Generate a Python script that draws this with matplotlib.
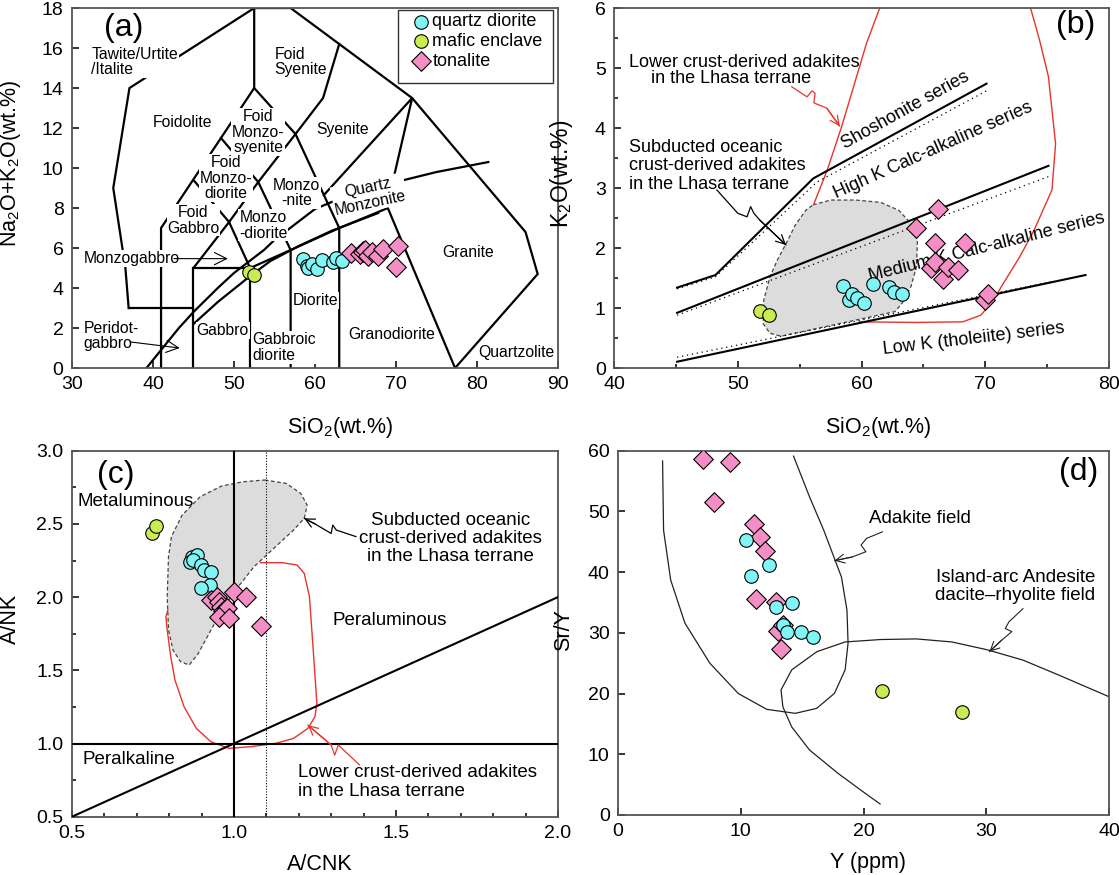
import matplotlib
matplotlib.use('Agg')
import matplotlib.pyplot as plt
from matplotlib.ticker import MultipleLocator
from matplotlib.patches import Rectangle

plt.rcParams['font.family'] = ['Liberation Sans', 'DejaVu Sans']
plt.rcParams['mathtext.fontset'] = 'custom'
plt.rcParams['mathtext.rm'] = 'Liberation Sans'
plt.rcParams['mathtext.default'] = 'regular'

# ---------------- sample data ----------------
qd_sio2 = [58.5, 59.0, 59.2, 59.6, 60.2, 60.9, 62.2, 62.6, 63.3]
qd_alk = [5.45, 5.10, 5.00, 5.20, 4.95, 5.38, 5.30, 5.50, 5.35]
qd_k2o = [1.36, 1.13, 1.24, 1.16, 1.08, 1.40, 1.35, 1.27, 1.23]
qd_acnk = [0.870, 0.887, 0.864, 0.875, 0.898, 0.908, 0.928, 0.926, 0.898]
qd_ank = [2.276, 2.287, 2.242, 2.255, 2.220, 2.185, 2.170, 2.083, 2.060]
qd_y = [10.4, 10.8, 12.3, 12.9, 14.2, 13.4, 13.8, 14.9, 15.9]
qd_sry = [45.3, 39.3, 41.2, 34.2, 34.9, 31.3, 30.2, 30.2, 29.3]

me_sio2 = [51.8, 52.5]
me_alk = [4.80, 4.64]
me_k2o = [0.95, 0.88]
me_acnk = [0.746, 0.759]
me_ank = [2.435, 2.488]
me_y = [21.5, 28.0]
me_sry = [20.5, 17.0]

to_sio2 = [64.4, 65.6, 65.9, 65.9, 66.2, 66.6, 67.0, 67.8, 68.4, 70.0, 70.2]
to_alk = [5.75, 5.70, 5.85, 5.78, 5.90, 5.62, 5.82, 5.58, 5.97, 5.05, 6.10]
to_k2o = [2.33, 1.66, 2.09, 1.77, 2.65, 1.48, 1.69, 1.64, 2.08, 1.14, 1.24]
to_acnk = [0.928, 0.949, 0.954, 0.959, 0.965, 0.980, 1.000, 1.036, 0.954, 0.985, 1.083]
to_ank = [1.980, 2.003, 1.969, 1.934, 1.905, 1.923, 2.037, 2.003, 1.866, 1.855, 1.800]
to_y = [6.9, 9.1, 7.8, 11.1, 11.6, 12.0, 11.2, 12.9, 13.0, 13.3, 13.4]
to_sry = [58.6, 58.2, 51.6, 47.9, 45.8, 43.5, 35.5, 35.0, 30.3, 27.3, 31.3]

series_names = ['quartz diorite', 'mafic enclave', 'tonalite']

# ---------------- TAS (Middlemost 1994) boundaries ----------------
tas_lines = [
    ([37.0, 36.6, 35.1, 37.1, 52.5, 57.0, 63.0, 72.0, 86.0, 87.5, 77.3],
     [3.0, 5.0, 9.0, 14.0, 18.0, 18.0, 16.2, 13.5, 6.8, 4.7, 0.0]),
    ([37, 45], [3, 3]),
    ([41, 41, 52.5, 52.5], [0, 7, 14, 18]),
    ([52.5, 57.6, 63, 63], [14, 11.7, 7, 0]),
    ([45, 45, 52, 52], [0, 5, 5, 0]),
    ([45, 49.4, 53, 57.6, 61, 63], [5, 7.3, 9.3, 11.7, 13.5, 16.2]),
    ([45, 49.4, 52], [9.4, 7.3, 5]),
    ([48.4, 53, 57, 57], [11.5, 9.3, 5.9, 0]),
    ([52, 57, 63, 69, 77.3], [5, 5.9, 7, 8, 0]),
    ([61.1, 72, 69.6], [8.65, 13.5, 9.3]),
    ([39.2, 40, 43.2, 45, 48, 50, 53.7, 55, 60, 65, 70, 75, 81.4],
     [0, 0.4, 2.0, 2.8, 4.0, 4.75, 5.9, 6.4, 7.95, 8.8, 9.3, 9.8, 10.3]),
    ([45, 48, 52, 54.5, 58, 62, 67.8], [2.2, 3.3, 4.6, 5.35, 6.1, 6.85, 7.75]),
]

tas_labels = [
    ('Tawite/Urtite\n/Italite', 32.4, 15.3, 'left'),
    ('Foidolite', 43.6, 12.26, 'center'),
    ('Foid\nSyenite', 55.0, 15.3, 'left'),
    ('Syenite', 63.4, 11.93, 'center'),
    ('Foid\nMonzo-\nsyenite', 53.0, 11.8, 'center'),
    ('Foid\nMonzo-\ndiorite', 49.0, 9.5, 'center'),
    ('Monzo\n-nite', 57.7, 8.76, 'center'),
    ('Foid\nGabbro', 45.0, 7.39, 'center'),
    ('Monzo\n-diorite', 53.6, 7.14, 'center'),
    ('Granite', 78.9, 5.76, 'center'),
    ('Diorite', 60.1, 3.39, 'center'),
    ('Granodiorite', 69.5, 1.69, 'center'),
    ('Gabbro', 48.6, 1.88, 'center'),
    ('Gabbroic\ndiorite', 52.25, 1.03, 'left'),
    ('Quartzolite', 84.9, 0.80, 'center'),
]

# ---------------- K2O-SiO2 ----------------
k_solid = [
    ([45.1, 48.2, 56.1, 70.1], [1.34, 1.55, 3.16, 4.74]),
    ([45.1, 75.1], [0.92, 3.37]),
    ([45.1, 78.1], [0.105, 1.55]),
]
k_dotted = [
    ([45.1, 48.2, 56.4, 70.1], [1.32, 1.52, 3.10, 4.62]),
    ([45.1, 75.1], [0.88, 3.19]),
    ([45.1, 75.4], [0.18, 1.44]),
]
b_grey_x = [56.08, 57.52, 59.54, 61.56, 63.0, 64.0, 64.52, 64.44, 64.0, 63.28, 62.7,
            53.49, 52.6, 52.05, 52.1, 52.6, 53.2, 53.92, 54.64, 55.5]
b_grey_y = [2.72, 2.80, 2.80, 2.76, 2.63, 2.41, 2.13, 1.69, 1.36, 1.08, 0.94,
            0.53, 0.58, 0.74, 1.13, 1.52, 1.80, 2.08, 2.38, 2.63]
b_red_x = [56.14, 57.23, 58.39, 60.4, 61.47, 61.6]
b_red_y = [2.73, 3.30, 4.02, 5.41, 6.0, 6.3]
b_red2_x = [73.5, 73.66, 74.38, 75.1, 75.68, 75.39, 73.95, 72.8, 71.64, 70.49, 69.63,
            68.18, 64.44, 59.83]
b_red2_y = [6.3, 6.0, 5.47, 4.86, 3.74, 2.97, 2.30, 1.86, 1.47, 1.08, 0.88,
            0.77, 0.76, 0.77]
b_red_arrow_x = [54.35, 55.6, 56.0, 56.25, 56.15, 57.2, 58.24]
b_red_arrow_y = [4.69, 4.52, 4.62, 4.58, 4.42, 4.33, 4.03]
b_blk_arrow_x = [48.3, 50.0, 50.75, 51.04, 51.3, 51.76, 53.9]
b_blk_arrow_y = [2.97, 2.58, 2.52, 2.69, 2.58, 2.47, 2.05]

# ---------------- A/NK - A/CNK ----------------
c_grey_x = [1.095, 1.161, 1.206, 1.226, 1.217, 1.184, 1.117, 1.062, 1.017, 0.973,
            0.929, 0.890, 0.862, 0.835, 0.812, 0.798, 0.794, 0.798, 0.807, 0.840,
            0.896, 0.962, 1.028]
c_grey_y = [2.800, 2.777, 2.709, 2.629, 2.538, 2.458, 2.321, 2.208, 2.082, 1.946,
            1.775, 1.616, 1.536, 1.559, 1.638, 1.775, 2.003, 2.276, 2.413, 2.560,
            2.686, 2.759, 2.788]
c_red_x = [1.082, 1.150, 1.195, 1.217, 1.233, 1.244, 1.256, 1.250, 1.228, 1.184,
           1.128, 1.051, 0.984, 0.929, 0.884, 0.846, 0.818, 0.805, 0.794, 0.790, 0.796]
c_red_y = [2.235, 2.235, 2.219, 2.162, 2.003, 1.661, 1.274, 1.183, 1.103, 1.035,
           1.001, 0.978, 0.967, 1.012, 1.103, 1.251, 1.433, 1.593, 1.775, 1.866, 1.912]
c_blk_arrow_x = [1.377, 1.316, 1.305, 1.300, 1.250, 1.217]
c_blk_arrow_y = [2.413, 2.458, 2.492, 2.435, 2.500, 2.538]
c_red_arrow_x = [1.388, 1.339, 1.322, 1.311, 1.300, 1.228]
c_red_arrow_y = [0.853, 0.955, 0.990, 0.921, 0.990, 1.126]

# ---------------- Sr/Y - Y ----------------
d_adakite_x = [3.63, 3.71, 4.29, 5.45, 7.48, 9.8, 12.12, 14.44, 16.18, 17.63, 18.5,
               18.74, 18.65, 18.2, 16.76, 15.6, 14.3]
d_adakite_y = [58.3, 46.9, 38.7, 31.6, 25.0, 20.0, 17.4, 16.74, 17.56, 20.03, 23.9,
               28.3, 33.75, 39.2, 46.9, 52.4, 59.1]
d_arc_x = [39.97, 35.9, 33.0, 30.1, 27.2, 24.3, 21.4, 18.5, 16.2, 14.15, 13.28, 13.43,
           14.15, 15.6, 17.92, 19.95, 21.35]
d_arc_y = [19.5, 23.05, 25.5, 27.2, 28.5, 29.0, 28.9, 28.5, 26.9, 23.9, 20.6, 17.8,
           14.5, 10.7, 6.86, 3.84, 1.81]
d_arrow1_x = [21.55, 20.24, 19.8, 20.19, 19.08, 17.63]
d_arrow1_y = [46.65, 45.55, 44.46, 43.36, 42.5, 41.88]
d_arrow2_x = [33.0, 31.84, 31.55, 32.08, 31.26, 30.25]
d_arrow2_y = [34.0, 31.8, 30.7, 30.2, 28.8, 26.9]

# ---------------- styling ----------------
C_CYAN = '#80f5f5'
C_GREEN = '#c8ec52'
C_PINK = '#f58ec4'
C_GREY = '#dcdcdc'
C_RED = '#e8342c'
LBL = 15.5
TCK = 14
TXT_A = 11.3
TXT_B = 13
TXT_C = 13.5
TXT_D = 13.5
PANEL = 23


def style(ax):
    for s in ax.spines.values():
        s.set_linewidth(1.3)
        s.set_color('#555555')
    ax.tick_params(which='both', direction='in', labelsize=TCK, width=1.1, pad=6,
                   top=False, right=False)
    ax.tick_params(which='major', length=5)
    ax.tick_params(which='minor', length=3)


def samples(ax, x1, y1, x2, y2, x3, y3, order=('c', 'p')):
    kw = dict(edgecolors='black', linewidths=0.8)
    ax.scatter(x2, y2, s=95, marker='o', c=C_GREEN, zorder=6, label=series_names[1], **kw)
    if order[0] == 'c':
        ax.scatter(x1, y1, s=95, marker='o', c=C_CYAN, zorder=5, label=series_names[0], **kw)
        ax.scatter(x3, y3, s=100, marker='D', c=C_PINK, zorder=6, label=series_names[2], **kw)
    else:
        ax.scatter(x3, y3, s=100, marker='D', c=C_PINK, zorder=5, label=series_names[2], **kw)
        ax.scatter(x1, y1, s=95, marker='o', c=C_CYAN, zorder=6, label=series_names[0], **kw)


def squiggle(ax, xs, ys, color, lw=0.9):
    ax.plot(xs, ys, color=color, lw=lw, zorder=4, solid_capstyle='round')
    ax.annotate('', xy=(xs[-1], ys[-1]), xytext=(xs[-2], ys[-2]),
                arrowprops=dict(arrowstyle='->', color=color, lw=lw, shrinkA=0,
                                shrinkB=0, mutation_scale=16), zorder=4)


fig = plt.figure(figsize=(11.19, 8.75), dpi=100)
axA = fig.add_axes([0.0643, 0.5794, 0.4343, 0.4114])
axB = fig.add_axes([0.5487, 0.5794, 0.4424, 0.4114])
axC = fig.add_axes([0.0643, 0.0666, 0.4343, 0.4183])
axD = fig.add_axes([0.5523, 0.0686, 0.4388, 0.4163])

# ---------------- (a) ----------------
ax = axA
for xs, ys in tas_lines:
    ax.plot(xs, ys, color='black', lw=1.6, zorder=2, solid_joinstyle='miter')
wb = dict(facecolor='white', edgecolor='none', pad=0.6)
for t, x, y, ha in tas_labels:
    ax.text(x, y, t, ha=ha, va='center', fontsize=TXT_A, zorder=3, bbox=wb, linespacing=1.05)
ax.text(66.7, 8.64, 'Quartz\nMonzonite', ha='center', va='center', fontsize=TXT_A,
        rotation=12, zorder=3, bbox=wb, linespacing=1.0, rotation_mode='anchor')
ax.text(31.4, 5.47, 'Monzogabbro', ha='left', va='center', fontsize=TXT_A, zorder=3, bbox=wb)
ax.annotate('', xy=(49.25, 5.47), xytext=(42.6, 5.47),
            arrowprops=dict(arrowstyle='->', lw=0.8, color='black', shrinkA=0, shrinkB=0,
                            mutation_scale=22), zorder=3)
ax.text(31.4, 1.6, 'Peridot-\ngabbro', ha='left', va='center', fontsize=TXT_A, zorder=3,
        bbox=wb, linespacing=1.05)
ax.annotate('', xy=(43.3, 1.0), xytext=(37.3, 1.3),
            arrowprops=dict(arrowstyle='->', lw=0.8, color='black', shrinkA=0, shrinkB=0,
                            mutation_scale=22), zorder=3)
ax.text(36.4, 17.0, '(a)', ha='center', va='center', fontsize=PANEL)
samples(ax, qd_sio2, qd_alk, me_sio2, me_alk, to_sio2, to_alk)
h, l = ax.get_legend_handles_labels()
order = [l.index(n) for n in series_names]
ax.add_patch(Rectangle((0.671, 0.792), 0.319, 0.2024, transform=ax.transAxes,
                       facecolor='white', edgecolor='#333333', lw=1.0, zorder=9))
leg = ax.legend([h[i] for i in order], [l[i] for i in order], loc='upper left',
                bbox_to_anchor=(0.695, 0.995), fontsize=13, frameon=False,
                borderaxespad=0, handlelength=0.9, handletextpad=0.15,
                borderpad=0.2, labelspacing=0.15)
leg.set_zorder(10)
ax.set_xlim(30, 90)
ax.set_ylim(0, 18)
ax.xaxis.set_major_locator(MultipleLocator(10))
ax.yaxis.set_major_locator(MultipleLocator(2))
style(ax)
ax.set_xlabel('SiO$_2$(wt.%)', fontsize=LBL)
ax.set_ylabel('Na$_2$O+K$_2$O(wt.%)', fontsize=LBL)
ax.xaxis.set_label_coords(0.553, -0.13)
ax.yaxis.set_label_coords(-0.10, 0.57)

# ---------------- (b) ----------------
ax = axB
ax.fill(b_grey_x, b_grey_y, facecolor=C_GREY, edgecolor='#444444', lw=0.9,
        ls=(0, (3, 2)), zorder=1)
for xs, ys in k_solid:
    ax.plot(xs, ys, color='black', lw=1.5, zorder=3)
for xs, ys in k_dotted:
    ax.plot(xs, ys, color='black', lw=0.9, ls=(0, (1, 3)), zorder=3)
ax.plot(b_red_x, b_red_y, color=C_RED, lw=1.0, zorder=2)
ax.plot(b_red2_x, b_red2_y, color=C_RED, lw=1.0, zorder=2)
squiggle(ax, b_red_arrow_x, b_red_arrow_y, C_RED)
squiggle(ax, b_blk_arrow_x, b_blk_arrow_y, 'black')
ax.text(41.18, 5.1, 'Lower crust-derived adakites', ha='left', va='center', fontsize=TXT_B)
ax.text(42.97, 4.83, 'in the Lhasa terrane', ha='left', va='center', fontsize=TXT_B)
ax.text(41.18, 3.37, 'Subducted oceanic\ncrust-derived adakites\nin the Lhasa terrane',
        ha='left', va='center', fontsize=TXT_B, linespacing=1.1)
ax.text(63.57, 4.3, 'Shoshonite series', rotation=29, ha='center', va='center',
        fontsize=TXT_B, rotation_mode='anchor')
ax.text(65.82, 3.63, 'High K Calc-alkaline series', rotation=24, ha='center',
        va='center', fontsize=TXT_B, rotation_mode='anchor')
ax.text(70.14, 2.02, 'Medium K Calc-alkaline series', rotation=14, ha='center',
        va='center', fontsize=TXT_B, rotation_mode='anchor', zorder=4)
ax.text(69.1, 0.48, 'Low K (tholeiite) series', rotation=6.7, ha='center',
        va='center', fontsize=TXT_B, rotation_mode='anchor')
ax.text(77.26, 5.71, '(b)', ha='center', va='center', fontsize=PANEL)
samples(ax, qd_sio2, qd_k2o, me_sio2, me_k2o, to_sio2, to_k2o)
ax.set_xlim(40, 80)
ax.set_ylim(0, 6)
ax.xaxis.set_major_locator(MultipleLocator(10))
ax.xaxis.set_minor_locator(MultipleLocator(5))
ax.yaxis.set_major_locator(MultipleLocator(1))
ax.yaxis.set_minor_locator(MultipleLocator(0.5))
style(ax)
ax.set_xlabel('SiO$_2$(wt.%)', fontsize=LBL)
ax.set_ylabel('K$_2$O(wt.%)', fontsize=LBL + 1)
ax.xaxis.set_label_coords(0.534, -0.13)
ax.yaxis.set_label_coords(-0.078, 0.54)

# ---------------- (c) ----------------
ax = axC
ax.fill(c_grey_x, c_grey_y, facecolor=C_GREY, edgecolor='#444444', lw=0.9,
        ls=(0, (3, 2)), zorder=1)
ax.plot(c_red_x, c_red_y, color=C_RED, lw=1.0, zorder=2)
ax.axvline(1.0, color='black', lw=1.5, zorder=3)
ax.axvline(1.1, color='black', lw=0.8, ls=(0, (1, 1.5)), zorder=3)
ax.axhline(1.0, color='black', lw=1.5, zorder=3)
ax.plot([0.5, 2.0], [0.5, 2.0], color='black', lw=1.5, zorder=3)
squiggle(ax, c_blk_arrow_x, c_blk_arrow_y, 'black')
squiggle(ax, c_red_arrow_x, c_red_arrow_y, C_RED)
ax.text(0.635, 2.834, '(c)', ha='center', va='center', fontsize=PANEL)
ax.text(0.517, 2.652, 'Metaluminous', ha='left', va='center', fontsize=TXT_C)
ax.text(1.669, 2.40, 'Subducted oceanic\ncrust-derived adakites\nin the Lhasa terrane',
        ha='center', va='center', fontsize=TXT_C, linespacing=1.1)
ax.text(1.305, 1.843, 'Peraluminous', ha='left', va='center', fontsize=TXT_C)
ax.text(0.532, 0.892, 'Peralkaline', ha='left', va='center', fontsize=TXT_C)
ax.text(1.198, 0.738, 'Lower crust-derived adakites\nin the Lhasa terrane',
        ha='left', va='center', fontsize=TXT_C, linespacing=1.1)
samples(ax, qd_acnk, qd_ank, me_acnk, me_ank, to_acnk, to_ank)
ax.set_xlim(0.5, 2.0)
ax.set_ylim(0.5, 3.0)
ax.xaxis.set_major_locator(MultipleLocator(0.5))
ax.xaxis.set_minor_locator(MultipleLocator(0.1))
ax.yaxis.set_major_locator(MultipleLocator(0.5))
ax.yaxis.set_minor_locator(MultipleLocator(0.25))
ax.xaxis.set_major_formatter(plt.FormatStrFormatter('%.1f'))
ax.yaxis.set_major_formatter(plt.FormatStrFormatter('%.1f'))
style(ax)
ax.set_xlabel('A/CNK', fontsize=LBL)
ax.set_ylabel('A/NK', fontsize=LBL)
ax.xaxis.set_label_coords(0.509, -0.103)
ax.yaxis.set_label_coords(-0.105, 0.54)

# ---------------- (d) ----------------
ax = axD
ax.plot(d_adakite_x, d_adakite_y, color='#222222', lw=0.9, zorder=2)
ax.plot(d_arc_x, d_arc_y, color='#222222', lw=0.9, zorder=2)
squiggle(ax, d_arrow1_x, d_arrow1_y, '#222222', lw=0.8)
squiggle(ax, d_arrow2_x, d_arrow2_y, '#222222', lw=0.8)
ax.text(24.6, 48.85, 'Adakite field', ha='center', va='center', fontsize=TXT_D)
ax.text(32.37, 37.67, 'Island-arc Andesite\ndacite\u2013rhyolite field', ha='center',
        va='center', fontsize=TXT_D, linespacing=1.1)
ax.text(37.5, 56.5, '(d)', ha='center', va='center', fontsize=PANEL)
samples(ax, qd_y, qd_sry, me_y, me_sry, to_y, to_sry, order=('p', 'c'))
ax.set_xlim(0, 40)
ax.set_ylim(0, 60)
ax.xaxis.set_major_locator(MultipleLocator(10))
ax.yaxis.set_major_locator(MultipleLocator(10))
style(ax)
ax.set_xlabel('Y (ppm)', fontsize=LBL)
ax.set_ylabel('Sr/Y', fontsize=LBL)
ax.xaxis.set_label_coords(0.509, -0.103)
ax.yaxis.set_label_coords(-0.089, 0.508)

fig.savefig('out.png', dpi=100)
